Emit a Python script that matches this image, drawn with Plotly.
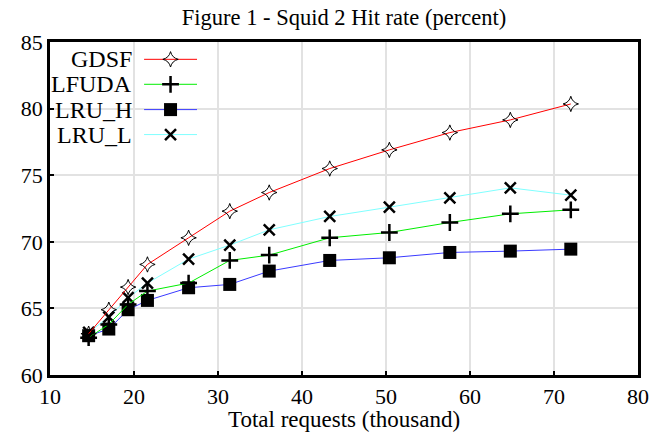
import plotly.graph_objects as go

requests_k = [14.6, 17.0, 19.3, 21.6, 26.5, 31.4, 36.1, 43.3, 50.4, 57.6, 64.8, 72.0]
gdsf = [63.1, 64.9, 66.6, 68.3, 70.3, 72.3, 73.7, 75.5, 76.9, 78.2, 79.15, 80.35]
lfuda = [62.8, 63.8, 65.3, 66.3, 66.9, 68.6, 69.0, 70.3, 70.7, 71.45, 72.1, 72.4]
lru_h = [62.95, 63.45, 64.9, 65.6, 66.55, 66.8, 67.8, 68.6, 68.8, 69.2, 69.3, 69.45]
lru_l = [63.2, 64.35, 65.8, 66.9, 68.7, 69.75, 70.9, 71.9, 72.6, 73.3, 74.05, 73.5]
series_names = ["GDSF", "LFUDA", "LRU_H", "LRU_L"]
x_ticks = [10, 20, 30, 40, 50, 60, 70, 80]
y_ticks = [60, 65, 70, 75, 80, 85]

FONT = "Liberation Serif, Times New Roman, serif"
styles = {
    "GDSF": dict(line=dict(color="#ff0000", width=1),
                 marker=dict(symbol="star-diamond-open", size=11, color="black", line=dict(color="black", width=1))),
    "LFUDA": dict(line=dict(color="#00ee00", width=1),
                  marker=dict(symbol="cross-thin-open", size=12, color="black", line=dict(color="black", width=2.5))),
    "LRU_H": dict(line=dict(color="#3a3aff", width=1),
                  marker=dict(symbol="square", size=13, color="black", line=dict(color="black", width=0))),
    "LRU_L": dict(line=dict(color="#80ffff", width=1),
                  marker=dict(symbol="x-thin-open", size=11, color="black", line=dict(color="black", width=2.5))),
}
values = {"GDSF": gdsf, "LFUDA": lfuda, "LRU_H": lru_h, "LRU_L": lru_l}

W, H = 662, 436

fig = go.Figure()
for name in reversed(series_names):
    st = styles[name]
    fig.add_trace(go.Scatter(x=requests_k, y=values[name], mode="lines+markers", name=name,
                             line=st["line"], marker=st["marker"], showlegend=False))

# custom legend (label on the left, sample on the right)
rows = [0.948, 0.873, 0.797, 0.722]
annotations = []
shapes = [dict(type="rect", xref="paper", yref="paper", x0=0.0, x1=0.266, y0=0.697, y1=0.961,
               fillcolor="white", line=dict(width=0), layer="between")]
for name, ry in zip(series_names, rows):
    st = styles[name]
    fig.add_trace(go.Scatter(x=[0.160, 0.250], y=[ry, ry], mode="lines", line=st["line"],
                             xaxis="x2", yaxis="y2", showlegend=False, hoverinfo="skip"))
    fig.add_trace(go.Scatter(x=[0.205], y=[ry], mode="markers", marker=st["marker"],
                             xaxis="x2", yaxis="y2", showlegend=False, hoverinfo="skip"))
    annotations.append(dict(text=name, xref="paper", yref="paper", x=0.143, y=ry,
                            xanchor="right", yanchor="middle", showarrow=False,
                            font=dict(family=FONT, size=24, color="black")))

annotations.append(dict(text="Total requests (thousand)", xref="paper", yref="paper", x=0.5, y=-0.135,
                        xanchor="center", yanchor="middle", showarrow=False,
                        font=dict(family=FONT, size=23, color="black")))

fig.update_layout(
    width=W, height=H,
    margin=dict(l=50, r=24, t=42, b=61),
    paper_bgcolor="white", plot_bgcolor="white",
    font=dict(family=FONT, size=22, color="black"),
    title=dict(text="Figure 1 - Squid 2 Hit rate (percent)", x=0.5, xref="paper", xanchor="center",
               y=1 - 17 / H, yref="container", yanchor="middle", font=dict(family=FONT, size=22.5, color="black")),
    xaxis=dict(range=[10, 80], tickvals=x_ticks, showgrid=True, gridcolor="#e2e2e2", gridwidth=2,
               showline=True, linecolor="black", linewidth=2.5, mirror=True, zeroline=False,
               ticks="inside", ticklen=4, tickwidth=2, tickcolor="black", automargin=False,
               tickfont=dict(family=FONT, size=22)),
    yaxis=dict(range=[60, 85], tickvals=y_ticks, showgrid=True, gridcolor="#e2e2e2", gridwidth=2,
               showline=True, linecolor="black", linewidth=2.5, mirror=True, zeroline=False,
               ticks="inside", ticklen=4, tickwidth=2, tickcolor="black", automargin=False,
               tickfont=dict(family=FONT, size=22)),
    xaxis2=dict(range=[0, 1], overlaying="x", visible=False, fixedrange=True),
    yaxis2=dict(range=[0, 1], overlaying="y", visible=False, fixedrange=True),
    annotations=annotations,
    shapes=shapes,
)

fig.write_html("out.html", config={"displayModeBar": False},
               post_script="document.body.style.margin='0';")
